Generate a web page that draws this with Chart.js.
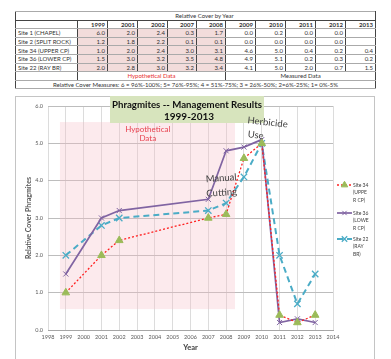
<!DOCTYPE html>
<html>
<head>
<meta charset="utf-8">
<script src="https://cdn.jsdelivr.net/npm/chart.js@4.4.0/dist/chart.umd.min.js"></script>
<style>
  html, body { margin: 0; padding: 0; background: #fff; }
  body { width: 391px; height: 359px; overflow: hidden; position: relative; font-family: Lato, "Liberation Sans", sans-serif; }
  #tbl { position: absolute; left: 15px; top: 11px; width: 360px; border-collapse: collapse; table-layout: fixed; font-size: 6px; color: #333; border: 1px solid #222; }
  #tbl td { height: 7.6px; padding: 0 2px; line-height: 7px; white-space: nowrap; overflow: hidden;
            border-top: 1px solid #aaa; border-bottom: 1px solid #aaa; border-left: 1px solid #444; border-right: 1px solid #444; }
  #tbl td.num { text-align: right; }
  #tbl td.hyp { background: #f2dcdb; }
  #tbl tr.yr td { font-weight: bold; text-align: right; }
  #frame { position: absolute; left: 15px; top: 96px; width: 358px; height: 300px; border: 1px solid #c4c4c4; }
  #chart { position: absolute; left: 15px; top: 96px; }
</style>
</head>
<body>
<table id="tbl"></table>
<div id="frame"></div>
<canvas id="chart" width="360" height="263"></canvas>
<script>
// data
const years = [1999, 2001, 2002, 2007, 2008, 2009, 2010, 2011, 2012, 2013];
const siteNames = ['Site 1 (CHAPEL)', 'Site 2 (SPLIT ROCK)', 'Site 34 (UPPER CP)', 'Site 36 (LOWER CP)', 'Site 22 (RAY BR)'];
const site1 = [6.0, 2.0, 2.4, 0.3, 1.7, 0.0, 0.2, 0.0, 0.0, null];
const site2 = [1.2, 1.8, 2.2, 0.1, 0.1, 0.0, 0.0, 0.0, 0.0, null];
const site34 = [1.0, 2.0, 2.4, 3.0, 3.1, 4.6, 5.0, 0.4, 0.2, 0.4];
const site36 = [1.5, 3.0, 3.2, 3.5, 4.8, 4.9, 5.1, 0.2, 0.3, 0.2];
const site22 = [2.0, 2.8, 3.0, 3.2, 3.4, 4.1, 5.0, 2.0, 0.7, 1.5];
const hypoYears = 5; // first five columns are hypothetical
const legendText = [['Site 34', '(UPPE', 'R CP)'], ['Site 36', '(LOWE', 'R CP)'], ['Site 22', '(RAY', 'BR)']];
const measuresNote = 'Relative Cover Measures: 6 = 96%-100%; 5= 76%-95%; 4 = 51%-75%; 3 = 26%-50%; 2=6%-25%; 1= 0%-5%';

// ---- table ----
const tbl = document.getElementById('tbl');
const colW = [62, 30, 30, 30, 29, 29, 30, 30, 30, 30, 30];
let html = '<colgroup>' + colW.map(w => `<col style="width:${w}px">`).join('') + '</colgroup>';
html += '<tr><td colspan="11" style="text-align:center;padding-left:20px;border-bottom-color:#444">Relative Cover by Year</td></tr>';
html += '<tr class="yr"><td></td>' + years.map(y => `<td>${y}</td>`).join('') + '</tr>';
[site1, site2, site34, site36, site22].forEach((row, r) => {
  html += `<tr><td>${siteNames[r]}</td>` + row.map((v, i) =>
    `<td class="num${i < hypoYears ? ' hyp' : ''}">${v == null ? '' : v.toFixed(1)}</td>`).join('') + '</tr>';
});
html += `<tr><td></td><td colspan="${hypoYears}" style="text-align:center;color:#e8302f">Hypothetical Data</td>` +
        `<td colspan="${years.length - hypoYears}" style="text-align:center">Measured Data</td></tr>`;
html += `<tr><td colspan="11" style="text-align:center;border-top-color:#444">${measuresNote}</td></tr>`;
tbl.innerHTML = html;

// ---- chart ----
const pts = arr => years.map((x, i) => ({ x: x, y: arr[i] }));
const fam = 'Lato, "Liberation Sans", sans-serif';

const decor = {
  id: 'decor',
  beforeDatasetsDraw(chart) {
    const { ctx, scales: { x, y } } = chart;
    ctx.save();
    // shaded "hypothetical" block
    const l = x.getPixelForValue(1998.67), r = x.getPixelForValue(2008.5);
    const t = y.getPixelForValue(5.57), b = y.getPixelForValue(0.56);
    ctx.fillStyle = 'rgba(245,190,200,0.32)';
    ctx.fillRect(l, t, r - l, b - t);
    ctx.fillStyle = '#e8424f';
    ctx.font = '8px ' + fam;
    ctx.textAlign = 'center';
    ctx.textBaseline = 'middle';
    ctx.fillText('Hypothetical', x.getPixelForValue(2003.6), y.getPixelForValue(5.38));
    ctx.fillText('Data', x.getPixelForValue(2003.6), y.getPixelForValue(5.14));
    ctx.restore();
  },
  afterDraw(chart) {
    const { ctx, scales: { x, y } } = chart;
    ctx.save();
    ctx.textAlign = 'center';
    ctx.textBaseline = 'middle';
    // title box
    ctx.fillStyle = '#d7e4bd';
    ctx.fillRect(95, 0, 154, 27);
    ctx.fillStyle = '#111';
    ctx.font = 'bold 10px ' + fam;
    ctx.fillText('Phragmites -- Management Results', 172, 9, 150);
    ctx.fillText('1999-2013', 174, 21);

    // annotations
    const note = (txt, xv, yv, ang) => {
      ctx.save();
      ctx.translate(x.getPixelForValue(xv), y.getPixelForValue(yv));
      ctx.rotate(ang * Math.PI / 180);
      ctx.fillText(txt, 0, 0);
      ctx.restore();
    };
    ctx.fillStyle = '#404040';
    ctx.font = '9.5px ' + fam;
    note('Herbicide', 2010.33, 5.56, 6);
    note('Use', 2009.66, 5.22, 6);
    note('Manual', 2007.72, 4.07, -4);
    note('Cutting', 2007.75, 3.68, -4);

    // legend (wrapped like the original)
    const legY = [89, 117, 143];
    chart.data.datasets.forEach((ds, i) => {
      const ly = legY[i];
      ctx.save();
      ctx.strokeStyle = ds.borderColor;
      ctx.lineWidth = ds.borderWidth;
      ctx.setLineDash(ds.borderDash || []);
      ctx.beginPath();
      ctx.moveTo(322, ly);
      ctx.lineTo(337, ly);
      ctx.stroke();
      ctx.setLineDash([]);
      ctx.fillStyle = ds.pointBackgroundColor || ds.pointBorderColor;
      ctx.strokeStyle = ds.pointBorderColor;
      ctx.lineWidth = ds.pointBorderWidth || 1;
      Chart.helpers.drawPoint(ctx, {
        pointStyle: ds.pointStyle, radius: ds.pointRadius * 0.85, borderWidth: ds.pointBorderWidth || 1, rotation: 0
      }, 329.5, ly);
      ctx.restore();
      ctx.fillStyle = '#404040';
      ctx.font = '5px ' + fam;
      ctx.textAlign = 'left';
      legendText[i].forEach((s, k) => ctx.fillText(s, 338, ly + k * 7.5));
    });
    ctx.restore();
  }
};

new Chart(document.getElementById('chart').getContext('2d'), {
  type: 'line',
  data: {
    datasets: [
      { label: siteNames[2], data: pts(site34), borderColor: '#ff2020', borderWidth: 1.3, borderDash: [2, 2],
        pointStyle: 'triangle', pointRadius: 4.4, pointBackgroundColor: '#9bbb59', pointBorderColor: '#9bbb59', pointBorderWidth: 1 },
      { label: siteNames[3], data: pts(site36), borderColor: '#8064a2', borderWidth: 1.7,
        pointStyle: 'crossRot', pointRadius: 3.6, pointBorderColor: '#8064a2', pointBorderWidth: 1 },
      { label: siteNames[4], data: pts(site22), borderColor: '#4bacc6', borderWidth: 2, borderDash: [6, 4],
        pointStyle: 'crossRot', pointRadius: 4.5, pointBorderColor: '#4bacc6', pointBorderWidth: 1.3 }
    ]
  },
  options: {
    responsive: false,
    animation: false,
    devicePixelRatio: 1,
    layout: { padding: { left: 10, right: 42, top: 10, bottom: 4 } },
    plugins: { legend: { display: false }, tooltip: { enabled: false } },
    scales: {
      x: {
        type: 'linear', min: 1998, max: 2014,
        afterFit: s => { s.height = 25; },
        ticks: { stepSize: 1, autoSkip: false, maxRotation: 0, padding: 4, color: '#595959',
                 font: { size: 5.5, family: fam }, callback: v => String(v) },
        grid: { color: '#dcdcdc', drawTicks: false },
        border: { color: '#a6a6a6' },
        title: { display: true, text: 'Year', color: '#404040', font: { size: 7.5, weight: 'bold', family: fam },
                 padding: { top: 0, bottom: 3 } }
      },
      y: {
        min: 0, max: 6,
        afterFit: s => { s.width = 23; },
        ticks: { stepSize: 1, padding: 5, color: '#595959', font: { size: 5.5, family: fam },
                 callback: v => v.toFixed(1) },
        grid: { color: '#bdbdbd', drawTicks: false },
        border: { display: false },
        title: { display: true, text: 'Relative Cover Phragmites', color: '#595959',
                 font: { size: 7, weight: 'bold', family: fam }, padding: 0 }
      }
    }
  },
  plugins: [decor]
});
</script>
</body>
</html>
